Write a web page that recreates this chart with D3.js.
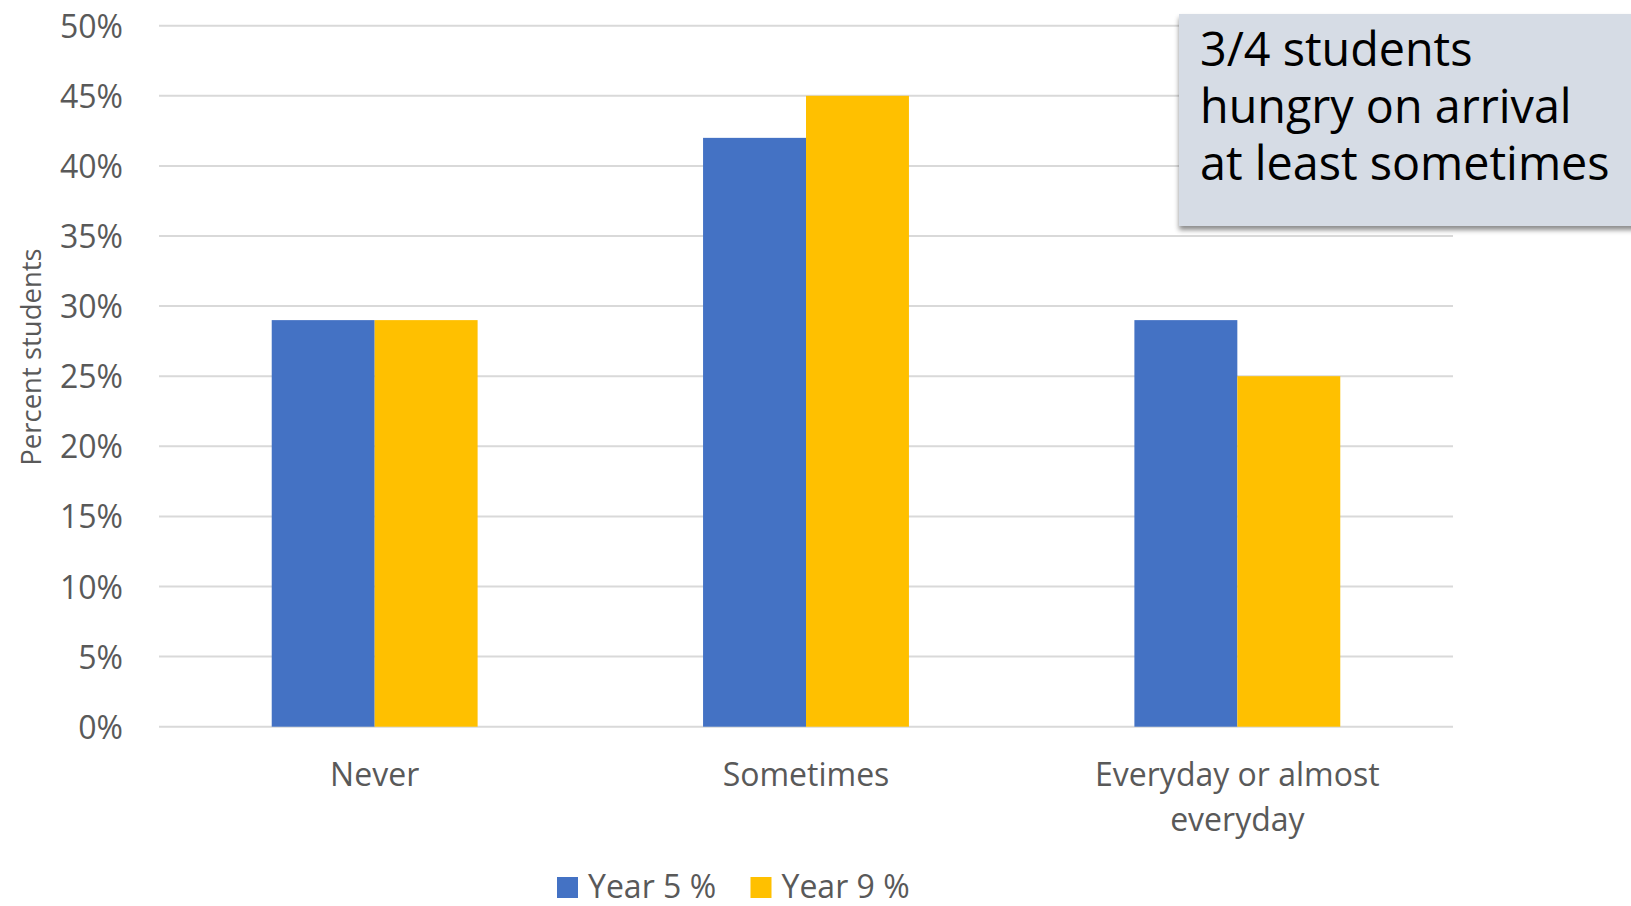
<!DOCTYPE html>
<html>
<head>
<meta charset="utf-8">
<script src="https://cdn.jsdelivr.net/npm/d3@7"></script>
<style>
  html, body { margin: 0; padding: 0; background: #fff; }
  svg { display: block; font-family: "Open Sans", "Noto Sans", sans-serif; }
</style>
</head>
<body>
<svg id="chart" width="1631" height="906"></svg>
<script>
// Survey responses: how often students arrive at school hungry
const categories = ["Never", "Sometimes", "Everyday or almost everyday"];
const seriesNames = ["Year 5 %", "Year 9 %"];
const year5 = [0.29, 0.42, 0.29];
const year9 = [0.29, 0.45, 0.25];
const yTicks = [0, 0.05, 0.10, 0.15, 0.20, 0.25, 0.30, 0.35, 0.40, 0.45, 0.50];
const colors = ["#4472C4", "#FFC000"];
const note = ["3/4 students", "hungry on arrival", "at least sometimes"];

const svg = d3.select("#chart");
const margin = { left: 159, right: 178, top: 25.7, bottom: 179.3 };
const W = 1631, H = 906;
const plotL = margin.left, plotR = W - margin.right;
const plotT = margin.top, plotB = H - margin.bottom;

const x0 = d3.scaleBand().domain(categories).range([plotL, plotR]).padding(0);
const gapWidth = 2.19; // gap between clusters, as a multiple of one bar's width
const barW = x0.bandwidth() / (seriesNames.length + gapWidth);
const x1 = d3.scaleBand().domain(seriesNames).range([0, barW * seriesNames.length]).padding(0);
const y = d3.scaleLinear().domain([0, 0.5]).range([plotB, plotT]);

const rows = categories.map((c, i) => ({ cat: c, vals: [year5[i], year9[i]] }));

// Horizontal gridlines
svg.append("g")
  .selectAll("line")
  .data(yTicks)
  .join("line")
  .attr("x1", plotL).attr("x2", plotR)
  .attr("y1", d => y(d)).attr("y2", d => y(d))
  .attr("stroke", "#d9d9d9").attr("stroke-width", 2);

// Clustered bars
const groupOffset = (x0.bandwidth() - barW * seriesNames.length) / 2;
svg.append("g")
  .selectAll("g")
  .data(rows)
  .join("g")
  .attr("transform", d => `translate(${x0(d.cat) + groupOffset},0)`)
  .selectAll("rect")
  .data(d => d.vals.map((v, i) => ({ key: seriesNames[i], v, i })))
  .join("rect")
  .attr("x", d => x1(d.key))
  .attr("width", x1.bandwidth())
  .attr("y", d => y(d.v))
  .attr("height", d => y(0) - y(d.v))
  .attr("fill", d => colors[d.i]);

// Y axis labels
const yAxis = svg.append("g")
  .attr("transform", `translate(${plotL},0)`)
  .call(d3.axisLeft(y).tickValues(yTicks).tickFormat(d3.format(".0%")).tickSize(0).tickPadding(36));
yAxis.select(".domain").remove();
yAxis.selectAll("text")
  .attr("fill", "#595959")
  .attr("dy", "0.36em")
  .style("font-size", "32px")
  .style("font-family", "'Open Sans', 'Noto Sans', sans-serif");

// X axis labels, wrapped to fit the category band
const xAxis = svg.append("g")
  .attr("transform", `translate(0,${plotB})`)
  .call(d3.axisBottom(x0).tickSize(0).tickPadding(37));
xAxis.select(".domain").remove();
xAxis.selectAll("text")
  .attr("fill", "#595959")
  .style("font-size", "32px")
  .style("font-family", "'Open Sans', 'Noto Sans', sans-serif")
  .each(function (d) {
    const t = d3.select(this);
    const words = d.split(/\s+/);
    const maxW = x0.bandwidth() * 0.85;
    const y0 = t.attr("y");
    t.text(null);
    const lines = [[]];
    let tsp = t.append("tspan").attr("x", 0).attr("y", y0).attr("dy", "0.71em");
    for (const w of words) {
      const cur = lines[lines.length - 1];
      cur.push(w);
      tsp.text(cur.join(" "));
      if (tsp.node().getComputedTextLength() > maxW && cur.length > 1) {
        cur.pop();
        tsp.text(cur.join(" "));
        lines.push([w]);
        tsp = t.append("tspan").attr("x", 0).attr("y", y0)
          .attr("dy", (lines.length - 1) * 1.4 + 0.71 + "em")
          .text(w);
      }
    }
  });

// Y axis title
svg.append("text")
  .attr("transform", "translate(41,357) rotate(-90)")
  .attr("text-anchor", "middle")
  .attr("fill", "#595959")
  .style("font-size", "27.5px")
  .text("Percent students");

// Legend
const legend = svg.append("g").attr("transform", "translate(557,877)");
const item = legend.selectAll("g")
  .data(seriesNames)
  .join("g")
  .attr("transform", (d, i) => `translate(${i * 193.5},0)`);
item.append("rect")
  .attr("width", 21).attr("height", 21)
  .attr("fill", (d, i) => colors[i]);
item.append("text")
  .attr("x", 31).attr("y", 21)
  .attr("fill", "#595959")
  .style("font-size", "32px")
  .text(d => d);

// Annotation box with soft drop shadow
const defs = svg.append("defs");
const f = defs.append("filter").attr("id", "shadow")
  .attr("x", "-10%").attr("y", "-10%").attr("width", "130%").attr("height", "130%");
f.append("feDropShadow")
  .attr("dx", 0).attr("dy", 4).attr("stdDeviation", 2.5)
  .attr("flood-color", "#000").attr("flood-opacity", 0.45);

svg.append("rect")
  .attr("x", 1179).attr("y", 14)
  .attr("width", 470).attr("height", 212)
  .attr("fill", "#d6dce5")
  .attr("filter", "url(#shadow)");

svg.append("text")
  .attr("fill", "#000")
  .style("font-size", "46.7px")
  .selectAll("tspan")
  .data(note)
  .join("tspan")
  .attr("x", 1200)
  .attr("y", (d, i) => 66 + i * 57)
  .text(d => d);
</script>
</body>
</html>
